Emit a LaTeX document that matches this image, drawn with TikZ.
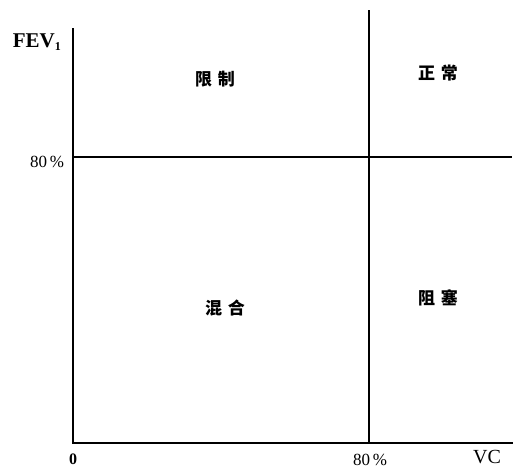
\documentclass[tikz,border=0pt]{standalone}
\usepackage{fontspec}
\setmainfont{Liberation Serif}
\newfontfamily\cjk{Noto Sans CJK SC}
\begin{document}
\begin{tikzpicture}[x=1pt,y=-1pt,
  axisline/.style={line width=1.6pt},
  divline/.style={line width=1.6pt},
  region/.style={font=\cjk\fontsize{17}{19}\selectfont\bfseries, inner sep=0pt},
  ticklabel/.style={font=\fontsize{17}{19}\selectfont, inner sep=0pt},
  axislabel/.style={font=\fontsize{21}{23}\selectfont\bfseries, inner sep=0pt}]
\useasboundingbox (0,0) rectangle (515,469);
% axes
\coordinate (o) at (73,443);
\coordinate (ytop) at (73,28);
\coordinate (xend) at (513,443);
\coordinate (hl) at (73,157);
\coordinate (hr) at (512,157);
\coordinate (vt) at (369,10);
\coordinate (vb) at (369,443);
\draw[axisline] (ytop) -- (o) -- (xend);
\draw[divline] (hl) -- (hr);
\draw[divline] (vt) -- (vb);
% labels
\node[axislabel] (fev) at (37,42) {FEV\textsubscript{\fontsize{12}{12}\selectfont 1}};
\node[ticklabel] (y80) at (47,162) {80\,\%};
\node[ticklabel, font=\fontsize{16}{18}\selectfont\bfseries] (zero) at (73,459) {0};
\node[ticklabel] (x80) at (370,460) {80\,\%};
\node[font=\fontsize{20}{22}\selectfont, inner sep=0pt] (vc) at (487,457) {VC};
% regions
\node[region] (restr) at (215,79) {限\hspace{6pt}制};
\node[region] (norm) at (438,73) {正\hspace{6pt}常};
\node[region] (mixed) at (225,308) {混\hspace{6pt}合};
\node[region] (obst) at (438,298) {阻\hspace{6pt}塞};
\end{tikzpicture}
\end{document}
